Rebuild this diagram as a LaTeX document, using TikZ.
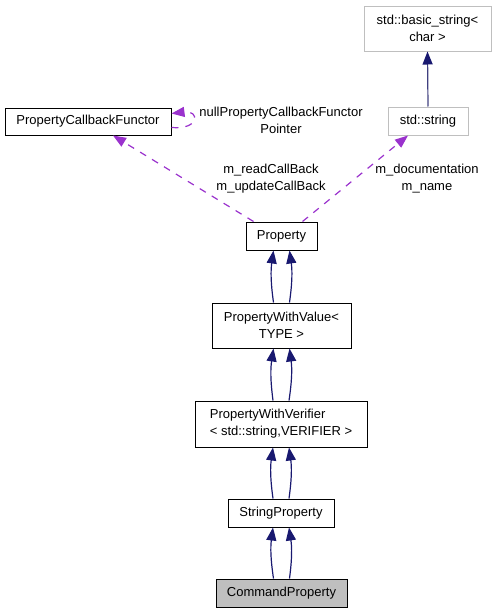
\documentclass[tikz,border=0pt]{standalone}
\usepackage{fontspec}
\setmainfont{Liberation Sans}
\usetikzlibrary{arrows.meta}
\definecolor{navy}{HTML}{191970}
\definecolor{slate}{HTML}{404080}
\definecolor{purp}{HTML}{9A32CD}
\definecolor{lgray}{HTML}{BFBFBF}
\begin{document}
\begin{tikzpicture}[x=1pt,y=-1pt,
  every node/.style={font=\fontsize{13}{17}\selectfont, inner sep=0pt},
  cls/.style={draw=black, line width=1pt, fill=white, align=center},
  ext/.style={draw=lgray, line width=1pt, fill=white, align=center},
  inh/.style={draw=navy, line width=1.2pt, -{Triangle[width=10pt,length=13pt]}},
  inhs/.style={draw=slate, line width=1.2pt, -{Triangle[width=10pt,length=13pt,color=navy,fill=navy]}},
  dep/.style={draw=purp, line width=1.2pt, dash pattern=on 7pt off 7pt, -{Triangle[width=10pt,length=13pt]}},
  lbl/.style={align=center}]
\useasboundingbox (0,0) rectangle (496,613);

\node[ext, minimum width=127pt, minimum height=45pt] (basic) at (427.5,28.5) {std::basic\_string<\\char >};
\node[ext, minimum width=80pt, minimum height=28pt] (stds) at (428,121) {std::string};
\node[cls, minimum width=166pt, minimum height=27pt] (pcf) at (88,121.5) {PropertyCallbackFunctor};
\node[cls, minimum width=71pt, minimum height=28pt] (prop) at (281.5,236) {Property};
\node[cls, minimum width=139pt, minimum height=45pt] (pwv) at (281.5,325.5) {PropertyWithValue<\\TYPE >};
\node[cls, minimum width=172pt, minimum height=46pt, align=left] (pwver) at (281,424) {PropertyWithVerifier\\< std::string,VERIFIER >};
\node[cls, minimum width=106pt, minimum height=28pt] (sp) at (281,513) {StringProperty};
\node[cls, fill=lgray, minimum width=131pt, minimum height=28pt] (cmd) at (281.5,593) {CommandProperty};

\node[lbl] (l1) at (281,120) {nullPropertyCallbackFunctor\\Pointer};
\node[lbl] (l2) at (271,179) {m\_readCallBack\\m\_updateCallBack};
\node[lbl] (l3) at (427,179) {m\_documentation\\m\_name};

% inheritance
\draw[inhs] (stds.north) -- (basic.south);
\foreach \c/\p in {pwv/prop, pwver/pwv, sp/pwver, cmd/sp}{
  \draw[inh] ([xshift=-8pt]\c.north) to[bend left=8] ([xshift=-8pt]\p.south);
  \draw[inh] ([xshift=8pt]\c.north) to[bend right=8] ([xshift=8pt]\p.south);
}

% usage
\draw[dep] ([xshift=-28pt]prop.north) -- ([xshift=25pt]pcf.south);
\draw[dep] ([xshift=21pt]prop.north) -- ([xshift=-20pt]stds.south);
\draw[dep] ([yshift=-6pt]pcf.east) .. controls (200,130) and (200,110) .. ([yshift=8pt]pcf.east);
\end{tikzpicture}
\end{document}
